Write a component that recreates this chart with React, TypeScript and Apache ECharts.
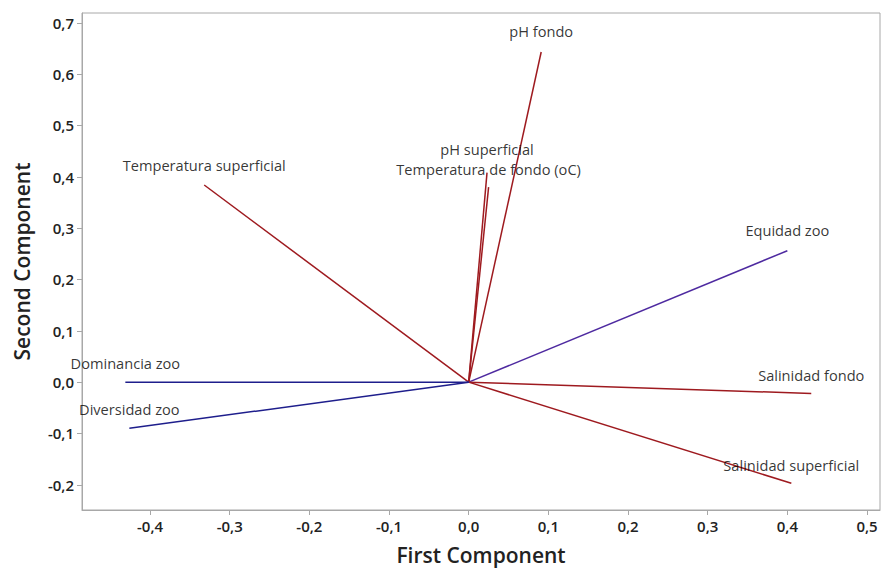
import React, { useEffect, useRef } from "react";
import * as echarts from "echarts";

const names = [
  "Temperatura superficial",
  "pH fondo",
  "pH superficial",
  "Temperatura de fondo (oC)",
  "Equidad zoo",
  "Salinidad fondo",
  "Salinidad superficial",
  "Dominancia zoo",
  "Diversidad zoo",
];
const firstComp = [-0.332, 0.091, 0.023, 0.025, 0.4, 0.43, 0.405, -0.431, -0.426];
const secondComp = [0.384, 0.643, 0.408, 0.38, 0.256, -0.022, -0.197, 0.0, -0.09];
const lineColors = [
  "#9E1A1F", "#9E1A1F", "#9E1A1F", "#9E1A1F",
  "#4E2AA0", "#9E1A1F", "#9E1A1F", "#1E1E8C", "#1E1E8C",
];
const labelOffsets = [12, 14, 16, 11, 13, 11, 11, 12, 12];
const xTicks = [-0.4, -0.3, -0.2, -0.1, 0, 0.1, 0.2, 0.3, 0.4, 0.5];
const yTicks = [-0.2, -0.1, 0, 0.1, 0.2, 0.3, 0.4, 0.5, 0.6, 0.7];

const fmt = (v: number) => (Math.abs(v) < 1e-9 ? 0 : v).toFixed(1).replace(".", ",");
const FONT = "'Open Sans', 'Noto Sans', sans-serif";

export default function App() {
  const ref = useRef<HTMLDivElement>(null);
  useEffect(() => {
    if (!ref.current) return;
    const chart = echarts.init(ref.current, undefined, { renderer: "svg" });
    const lineSeries = names.map((n, i) => ({
      type: "line",
      name: n,
      data: [
        [0, 0],
        [firstComp[i], secondComp[i]],
      ],
      showSymbol: false,
      symbol: "none",
      lineStyle: { color: lineColors[i], width: 1.5 },
      silent: true,
      z: 2,
    }));
    const labelSeries = {
      type: "scatter",
      symbolSize: 0,
      itemStyle: { color: "#000" },
      silent: true,
      z: 3,
      data: names.map((n, i) => ({
        value: [firstComp[i], secondComp[i]],
        label: {
          show: true,
          position: "top",
          distance: labelOffsets[i],
          formatter: n,
          color: "#000",
          fontSize: 14.6,
          fontFamily: FONT,
        },
      })),
    };
    const axisCommon = {
      type: "value",
      nameLocation: "middle",
      nameTextStyle: { fontSize: 21, fontWeight: 600, color: "#222", fontFamily: FONT },
      axisLine: { show: true, onZero: false, lineStyle: { color: "#a8a8a8" } },
      splitLine: { show: false },
    };
    const labelCommon = {
      formatter: (v: number) => fmt(v),
      fontSize: 15,
      fontWeight: 600,
      color: "#222",
      fontFamily: FONT,
      margin: 8,
    };
    chart.setOption({
      animation: false,
      backgroundColor: "#fff",
      grid: {
        left: 82,
        top: 13,
        right: 2,
        bottom: 62,
        show: true,
        borderColor: "#a8a8a8",
        borderWidth: 1,
      },
      xAxis: {
        ...axisCommon,
        min: -0.4854,
        max: 0.5163,
        name: "First Component",
        nameGap: 34,
        axisTick: { show: true, length: 5, lineStyle: { color: "#a8a8a8" }, customValues: xTicks },
        axisLabel: { ...labelCommon, customValues: xTicks },
      },
      yAxis: {
        ...axisCommon,
        min: -0.249,
        max: 0.719,
        name: "Second Component",
        nameGap: 50,
        axisTick: { show: true, length: 5, lineStyle: { color: "#a8a8a8" }, customValues: yTicks },
        axisLabel: { ...labelCommon, customValues: yTicks },
      },
      series: [...lineSeries, labelSeries],
    });
    return () => chart.dispose();
  }, []);
  return <div ref={ref} style={{ width: 882, height: 572, position: "absolute", left: 0, top: 0 }} />;
}
